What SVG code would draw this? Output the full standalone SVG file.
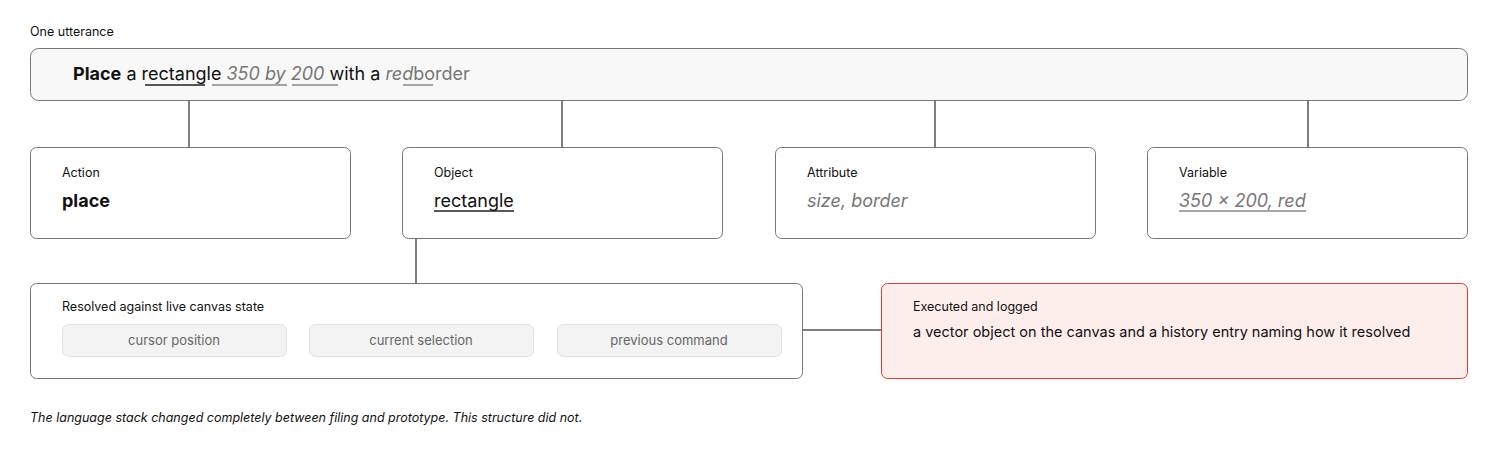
<svg xmlns="http://www.w3.org/2000/svg" width="1500" height="450" viewBox="0 0 1500 450">
<style>
text{font-family:Inter,"Liberation Sans",sans-serif;fill:#111}
.box{fill:#fff;stroke:#777;stroke-width:1}
.lbl{font-size:12.5px}
.val{font-size:18px}
.it{font-style:italic;fill:#777}
.chip{fill:#f3f3f3;stroke:#e2e2e2}
.ct{font-size:13px;fill:#666;text-anchor:middle}
.c{stroke:#555;stroke-width:1.5;fill:none}
</style>
<rect width="1500" height="450" fill="#fff"/>
<text x="30" y="36" class="lbl">One utterance</text>
<g id="utterance">
<rect x="30.5" y="48.5" width="1437" height="52" rx="8" fill="#f8f8f8" stroke="#777"/>
<text x="73" y="80" class="val"><tspan font-weight="bold">Place</tspan> a rectangle <tspan class="it">350 by 200</tspan> with a <tspan class="it">red</tspan><tspan fill="#777">border</tspan></text>
<line x1="145" y1="85" x2="205" y2="85" stroke="#222" stroke-width="1.5"/>
<line x1="212" y1="85" x2="287" y2="85" stroke="#888" stroke-width="1.5"/>
<line x1="292" y1="85" x2="338" y2="85" stroke="#888" stroke-width="1.5"/>
<line x1="403" y1="85" x2="433" y2="85" stroke="#888" stroke-width="1.5"/>
</g>
<g id="connectors">
<path class="c" d="M189 101V147M562 101V147M935 101V147M1308 101V147M416 238V283M802 330H881"/>
</g>
<g id="action"><rect class="box" x="30.5" y="147.5" width="320" height="91" rx="6"/>
<text x="62" y="177" class="lbl">Action</text><text x="62" y="207" class="val" font-weight="bold">place</text></g>
<g id="object"><rect class="box" x="402.5" y="147.5" width="320" height="91" rx="6"/>
<text x="434" y="177" class="lbl">Object</text><text x="434" y="207" class="val">rectangle</text>
<line x1="434" y1="211" x2="514" y2="211" stroke="#222" stroke-width="1.5"/></g>
<g id="attribute"><rect class="box" x="775.5" y="147.5" width="320" height="91" rx="6"/>
<text x="807" y="177" class="lbl">Attribute</text><text x="807" y="207" class="val it">size, border</text></g>
<g id="variable"><rect class="box" x="1147.5" y="147.5" width="320" height="91" rx="6"/>
<text x="1179" y="177" class="lbl">Variable</text><text x="1179" y="207" class="val it">350 × 200, red</text>
<line x1="1179" y1="211" x2="1306" y2="211" stroke="#888" stroke-width="1.5"/></g>
<g id="resolved"><rect class="box" x="30.5" y="283.5" width="772" height="95" rx="6"/>
<text x="62" y="311" class="lbl">Resolved against live canvas state</text>
<rect class="chip" x="62.5" y="324.5" width="224" height="32" rx="6"/><text x="174" y="345" class="ct">cursor position</text>
<rect class="chip" x="309.5" y="324.5" width="224" height="32" rx="6"/><text x="421" y="345" class="ct">current selection</text>
<rect class="chip" x="557.5" y="324.5" width="224" height="32" rx="6"/><text x="669" y="345" class="ct">previous command</text></g>
<g id="executed"><rect x="881.5" y="283.5" width="586" height="95" rx="6" fill="#fdeeeb" stroke="#e53b2c"/>
<text x="913" y="311" class="lbl">Executed and logged</text>
<text x="913" y="337" font-size="14.5px">a vector object on the canvas and a history entry naming how it resolved</text></g>
<text x="30" y="422" font-size="12.5px" font-style="italic">The language stack changed completely between filing and prototype. This structure did not.</text>
</svg>
